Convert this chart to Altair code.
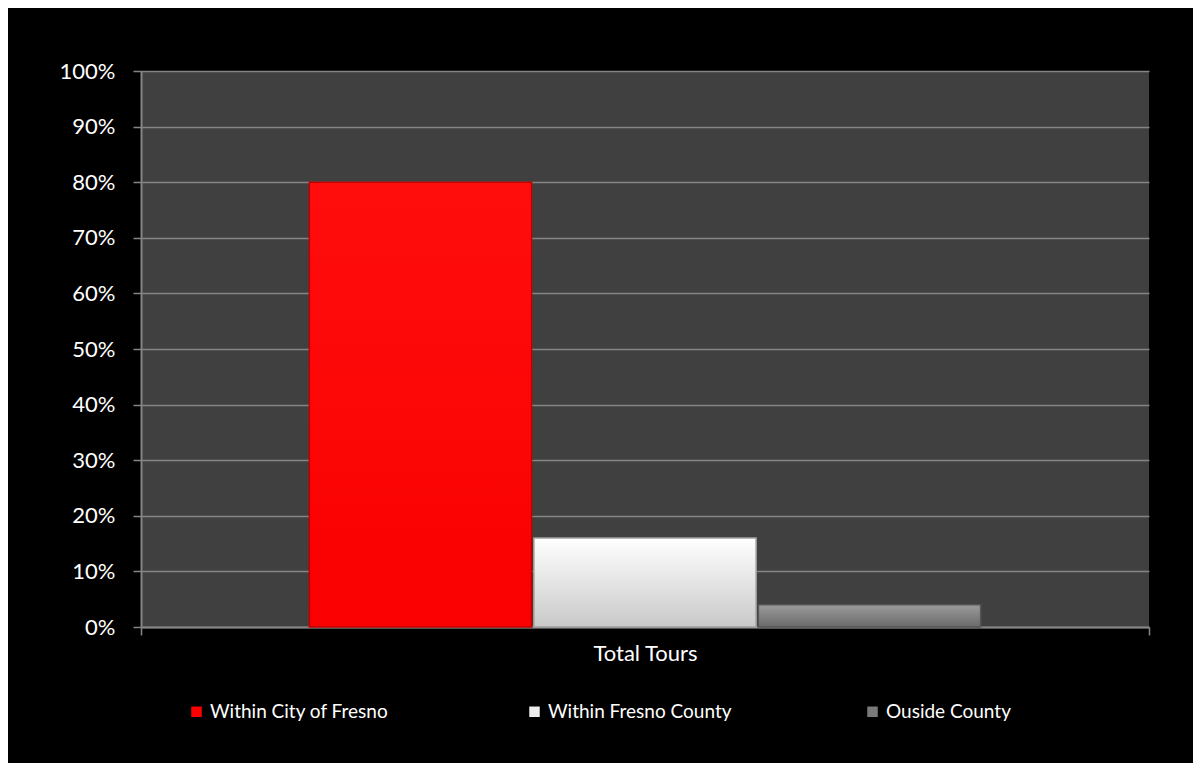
import altair as alt
import pandas as pd

categories = ["Total Tours"]
series = ["Within City of Fresno", "Within Fresno County", "Ouside County"]
values = [0.80, 0.16, 0.04]
colors = ["#FF0000", "#EDEDED", "#7A7A7A"]
gradients = [
    ["#FF0D0D", "#FA0000"],
    ["#FFFFFF", "#C9C9C9"],
    ["#9C9C9C", "#6A6A6A"],
]
edge_colors = ["#C00000", "#A0A0A0", "#555555"]
y_ticks = [0, 0.1, 0.2, 0.3, 0.4, 0.5, 0.6, 0.7, 0.8, 0.9, 1.0]

df = pd.DataFrame({
    "category": [categories[0]] * len(series),
    "series": series,
    "value": values,
})

grid_col = "#858585"

x_enc = alt.X("category:N", title=None,
              scale=alt.Scale(paddingInner=0, paddingOuter=0),
              axis=alt.Axis(tickBand="extent", labelAngle=0, labelFontSize=22,
                            labelColor="white", labelFont="Lato", labelPadding=8,
                            tickSize=8, tickColor=grid_col, tickWidth=1.5,
                            domainColor=grid_col, domainWidth=2))
xo_enc = alt.XOffset("series:N", sort=series,
                     scale=alt.Scale(domain=series, paddingOuter=0.75, paddingInner=0.01))
y_enc = alt.Y("value:Q", title=None,
              scale=alt.Scale(domain=[0, 1], nice=False),
              axis=alt.Axis(values=y_ticks, format=".0%", labelFontSize=22,
                            labelColor="white", labelFont="Lato", labelPadding=18,
                            tickSize=8, tickColor=grid_col, tickWidth=1.5,
                            domainColor=grid_col, domainWidth=2,
                            grid=True, gridColor=grid_col, gridWidth=1.5))

base = alt.Chart(df).mark_bar().encode(
    x=x_enc,
    xOffset=xo_enc,
    y=y_enc,
    color=alt.Color("series:N", sort=series,
                    scale=alt.Scale(domain=series, range=colors),
                    legend=alt.Legend(orient="none", legendX=46, legendY=631,
                                      direction="horizontal", columns=3,
                                      gridAlign="all", columnPadding=131,
                                      symbolType="square", symbolSize=110,
                                      symbolStrokeWidth=0, labelOffset=4,
                                      labelFontSize=19, labelFont="Lato",
                                      labelColor="white", title=None,
                                      labelLimit=400)),
)

overlays = []
for s, g, e in zip(series, gradients, edge_colors):
    overlays.append(
        alt.Chart(df).transform_filter(alt.datum.series == s).mark_bar(
            fill=alt.Gradient(gradient="linear", x1=0, x2=0, y1=0, y2=1,
                              stops=[alt.GradientStop(color=g[0], offset=0),
                                     alt.GradientStop(color=g[1], offset=1)]),
            stroke=e, strokeWidth=1.5,
        ).encode(x=x_enc, xOffset=xo_enc, y=y_enc)
    )

chart = alt.layer(base, *overlays).properties(
    width=1008,
    height=556,
    autosize=alt.AutoSizeParams(type="none"),
    padding={"left": 133, "top": 63, "right": 44, "bottom": 136},
    background="black",
).configure_view(
    fill="#404040",
    strokeWidth=0,
)

chart.save("out.html", embed_options={"renderer": "svg", "actions": False})
